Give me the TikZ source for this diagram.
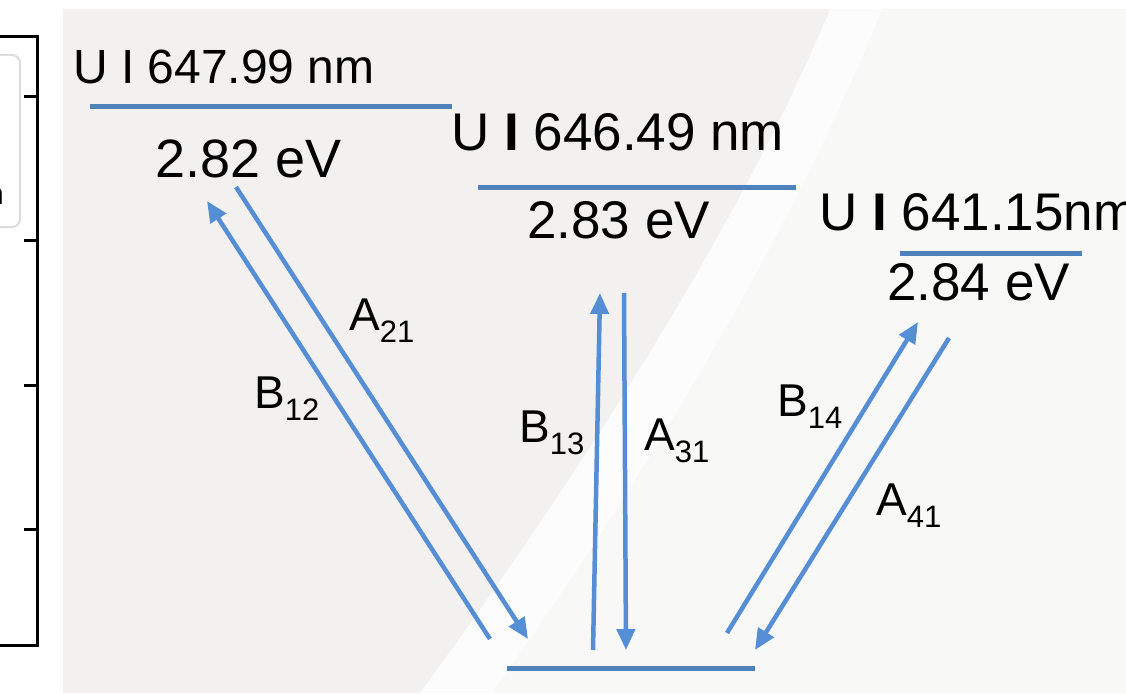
\documentclass[tikz,border=0pt]{standalone}
\usepackage{fontspec}
\setmainfont{Liberation Sans}
\usetikzlibrary{arrows.meta}
\definecolor{levelblue}{HTML}{4F81BD}
\definecolor{arrowblue}{HTML}{558ED5}
\definecolor{panelgray}{HTML}{F2F1F0}
\definecolor{panellight}{HTML}{F8F8F7}
\definecolor{legendgray}{HTML}{DCDCDC}
\newcommand{\trlab}[2]{#1\raisebox{-12pt}{\fontsize{31}{31}\selectfont #2}}
\tikzset{
  level/.style={line width=5pt, draw=levelblue},
  trans/.style={line width=4.5pt, draw=arrowblue, -{Triangle[length=21pt,width=18pt]}},
  txt/.style={anchor=base west, inner sep=0pt, font=\fontsize{#1}{#1}\selectfont},
  axisline/.style={line width=3pt, draw=black},
}
\begin{document}
\begin{tikzpicture}[x=1pt,y=-1pt]
\useasboundingbox (0,0) rectangle (1126,693);
\clip (0,0) rectangle (1126,693);

% background panel with the pale arc band
\fill[panelgray] (63,9) rectangle (1126,693);
\fill[panellight] (882,9) .. controls (815,180) and (680,430) .. (492,693)
  -- (1126,693) -- (1126,9) -- cycle;
\fill[white, opacity=0.8] (830,9) .. controls (760,180) and (620,420) .. (420,693)
  -- (492,693) .. controls (680,430) and (815,180) .. (882,9) -- cycle;

% plot frame on the left
\draw[axisline] (-5,37) -- (37,37) -- (37,645) -- (-5,645);
\foreach \ty in {96,240,385,529}
  \draw[axisline] (24,\ty) -- (37,\ty);
\draw[legendgray, line width=2pt, rounded corners=8pt] (-20,55) rectangle (20,227);
\node[txt=30] (legtxt) at (-13,204) {n};

% energy levels
\coordinate (l2a) at (90,106);  \coordinate (l2b) at (452,106);
\coordinate (l3a) at (478,187); \coordinate (l3b) at (796,187);
\coordinate (l4a) at (900,253); \coordinate (l4b) at (1082,253);
\coordinate (l1a) at (507,668); \coordinate (l1b) at (755,668);
\draw[level] (l2a) -- (l2b);
\draw[level] (l3a) -- (l3b);
\draw[level] (l4a) -- (l4b);
\draw[level] (l1a) -- (l1b);

% level labels
\node[txt=48] (n2) at (73,83) {U I 647.99 nm};
\node[txt=54] (e2) at (155,177) {2.82 eV};
\node[txt=53] (n3) at (451,150) {U {\bfseries I} 646.49 nm};
\node[txt=53] (e3) at (527,238) {2.83 eV};
\node[txt=53] (n4) at (819,230) {U {\bfseries I} 641.15nm};
\node[txt=53] (e4) at (887,300) {2.84 eV};

% transition end points
\coordinate (b12s) at (490,639); \coordinate (b12e) at (207,201);
\coordinate (a21s) at (236,187); \coordinate (a21e) at (528,639);
\coordinate (b13s) at (593,650); \coordinate (b13e) at (600,293);
\coordinate (a31s) at (624,293); \coordinate (a31e) at (626,650);
\coordinate (b14s) at (727,633); \coordinate (b14e) at (918,322);
\coordinate (a41s) at (949,338); \coordinate (a41e) at (755,650);
\draw[trans] (b12s) -- (b12e);
\draw[trans] (a21s) -- (a21e);
\draw[trans] (b13s) -- (b13e);
\draw[trans] (a31s) -- (a31e);
\draw[trans] (b14s) -- (b14e);
\draw[trans] (a41s) -- (a41e);

% transition labels
\node[txt=46] (ta21) at (349,330) {\trlab{A}{21}};
\node[txt=46] (tb12) at (254,408) {\trlab{B}{12}};
\node[txt=46] (tb13) at (519,442) {\trlab{B}{13}};
\node[txt=46] (ta31) at (644,450) {\trlab{A}{31}};
\node[txt=46] (tb14) at (777,416) {\trlab{B}{14}};
\node[txt=46] (ta41) at (876,515) {\trlab{A}{41}};
\end{tikzpicture}
\end{document}
